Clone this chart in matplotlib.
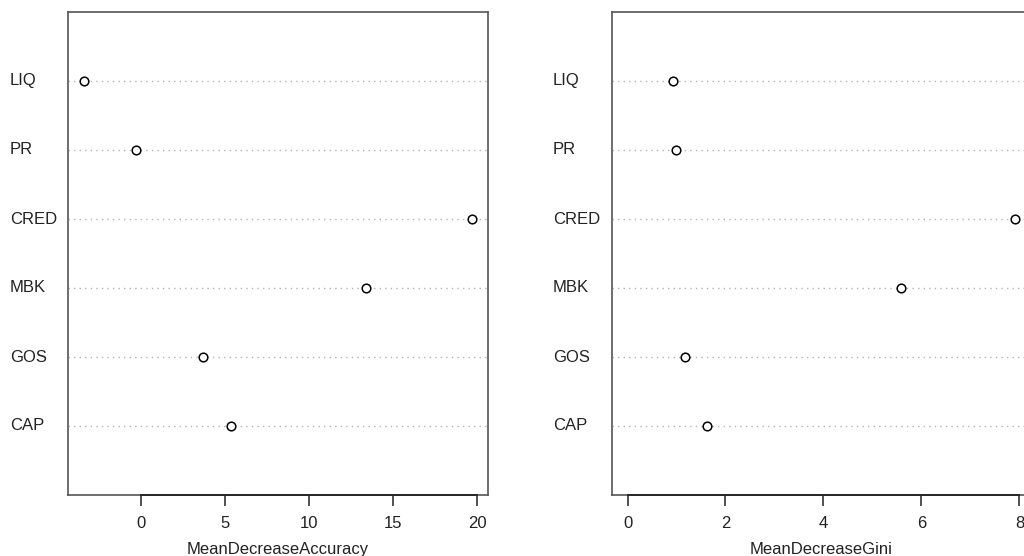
import matplotlib.pyplot as plt
import matplotlib.transforms as mtransforms

plt.rcParams['font.family'] = ['Liberation Sans', 'DejaVu Sans']

# variables, bottom to top (as in R's dotchart)
variables = ["CAP", "GOS", "MBK", "CRED", "PR", "LIQ"]
mean_decrease_accuracy = [5.35, 3.67, 13.37, 19.72, -0.34, -3.45]
mean_decrease_gini = [1.62, 1.17, 5.58, 7.91, 1.00, 0.92]

acc_ticks = [0, 5, 10, 15, 20]
gini_ticks = [0, 2, 4, 6, 8]

fig = plt.figure(figsize=(10.24, 5.56), dpi=100)

bottom = 61 / 556
height = 483 / 556
fsize = 12


def dotchart(ax, values, ticks, xlabel, label_x):
    # R style range: include zero when all values positive, pad by 4%
    lo = min(min(values), 0) if min(values) >= 0 else min(values)
    hi = max(values)
    pad = (hi - lo) * 0.04
    ax.set_xlim(lo - pad, hi + pad)
    ax.set_ylim(0, len(values) + 1)

    ypos = list(range(1, len(values) + 1))
    for y in ypos:
        ax.axhline(y, color='#b4b4b4', lw=1.0, ls=(0, (1, 3)), zorder=1)
    ax.plot(values, ypos, 'o', ms=6.2, mfc='white', mec='black', mew=1.1, zorder=3)

    for side in ['top', 'left', 'right', 'bottom']:
        ax.spines[side].set_color('#555555')
        ax.spines[side].set_linewidth(1.2)

    ax.set_yticks([])
    ax.set_xticks(ticks)
    ax.tick_params(axis='x', direction='out', length=8, width=1.1,
                   color='#222222', pad=7, labelsize=fsize, labelcolor='#222222')
    # axis line from first to last tick
    ax.plot([ticks[0], ticks[-1]], [0, 0], color='#222222', lw=1.3,
            clip_on=False, zorder=4)

    ax.set_xlabel(xlabel, fontsize=fsize, color='#222222')
    ax.xaxis.set_label_coords(0.5, -0.097)

    trans = mtransforms.blended_transform_factory(fig.transFigure, ax.transData)
    for name, y in zip(variables, ypos):
        ax.text(label_x, y, name, transform=trans, ha='left', va='center',
                fontsize=fsize, color='#222222')


ax1 = fig.add_axes([68 / 1024, bottom, 420 / 1024, height])
dotchart(ax1, mean_decrease_accuracy, acc_ticks, "MeanDecreaseAccuracy", 10 / 1024)

ax2 = fig.add_axes([612 / 1024, bottom, 418.5 / 1024, height])
dotchart(ax2, mean_decrease_gini, gini_ticks, "MeanDecreaseGini", 553 / 1024)

fig.savefig("out.png", dpi=100)
